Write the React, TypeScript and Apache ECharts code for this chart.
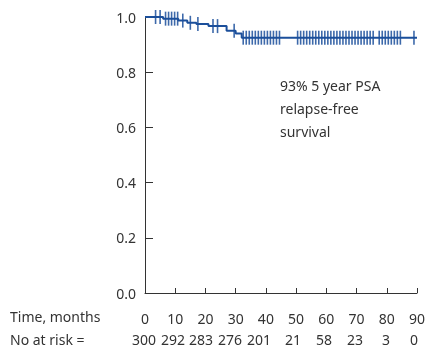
import React, { useEffect, useRef } from "react";
import * as echarts from "echarts";

// Kaplan–Meier step points: time (months) and survival
const stepTimes = [0, 6, 11, 14, 17, 21, 27, 30, 32, 90];
const stepSurv = [1.0, 0.994, 0.987, 0.979, 0.975, 0.967, 0.95, 0.94, 0.925, 0.925];

// Censored observation times (months)
const censorTimes = [
  3.5, 5, 6.8, 7.8, 8.8, 9.8, 10.8, 12.5, 15, 17.5, 22.5, 24, 29.5,
  32.5, 33.5, 34.5, 35.5, 36.5, 37.5, 38.5, 39.5, 40.5, 41.5, 42.5, 43.5, 44.5,
  50.5, 51.5, 52.5, 53.5, 54.5, 55.5, 56.5, 57.5, 58.5, 59.5, 60.5, 61.5, 62.5,
  63.5, 64.5, 65.5, 66.5, 67.5, 68.5, 69.5, 70.5, 71.5, 72.5, 73.5, 74.5, 75.5,
  77.5, 78.5, 79.5, 80.5, 81.5, 82.5, 83.5, 84.5, 89,
];

const timeTicks = [0, 10, 20, 30, 40, 50, 60, 70, 80, 90];
const atRisk = ["300", "292", "283", "276", "201", "21", "58", "23", "3", "0"];
const atRiskX = [144, 173, 201, 230, 259, 293, 324, 355, 386, 414];
const annotation = ["93% 5 year PSA", "relapse-free", "survival"];

const survAt = (t: number) => {
  let s = stepSurv[0];
  for (let i = 0; i < stepTimes.length; i++) if (stepTimes[i] <= t) s = stepSurv[i];
  return s;
};

const FONT = "Noto Sans";
const TXT = "#333333";
const BLUE = "#1b4f9b";

export default function App() {
  const ref = useRef<HTMLDivElement>(null);
  useEffect(() => {
    const chart = echarts.init(ref.current!, undefined, { renderer: "svg" });
    chart.setOption({
      animation: false,
      grid: { left: 145, right: 10, top: 17, bottom: 57 },
      textStyle: { fontFamily: FONT },
      xAxis: {
        type: "value",
        min: 0,
        max: 90,
        interval: 10,
        axisLine: { lineStyle: { color: TXT, width: 1 } },
        axisTick: { inside: true, length: 5, lineStyle: { color: TXT } },
        axisLabel: {
          margin: 18,
          color: TXT,
          fontSize: 14,
          fontFamily: FONT,
          formatter: (v: number) => (timeTicks.includes(v) ? String(v) : ""),
        },
        splitLine: { show: false },
      },
      yAxis: {
        type: "value",
        min: 0,
        max: 1,
        interval: 0.2,
        axisLine: { show: true, lineStyle: { color: TXT, width: 1 } },
        axisTick: { show: true, inside: true, length: 8, lineStyle: { color: TXT } },
        axisLabel: {
          margin: 9,
          color: TXT,
          fontSize: 14,
          fontFamily: FONT,
          formatter: (v: number) => v.toFixed(1),
        },
        splitLine: { show: false },
      },
      series: [
        {
          type: "line",
          step: "end",
          symbol: "none",
          data: stepTimes.map((t, i) => [t, stepSurv[i]]),
          lineStyle: { color: BLUE, width: 2 },
          z: 3,
        },
        {
          type: "scatter",
          symbol: "rect",
          symbolSize: [1.6, 14],
          data: censorTimes.map((t) => [t, survAt(t)]),
          itemStyle: { color: BLUE, opacity: 0.85 },
          z: 4,
        },
      ],
      graphic: [
        {
          type: "text",
          left: 10,
          top: 309,
          style: { text: "Time, months", fill: TXT, font: `14px "${FONT}"` },
        },
        {
          type: "text",
          left: 10,
          top: 332,
          style: { text: "No at risk =", fill: TXT, font: `14px "${FONT}"` },
        },
        ...atRisk.map((v, i) => ({
          type: "text",
          x: atRiskX[i],
          y: 332,
          style: { text: v, fill: TXT, font: `14px "${FONT}"`, align: "center" },
        })),
        ...annotation.map((line, i) => ({
          type: "text",
          x: 280,
          y: 78 + i * 23,
          style: { text: line, fill: TXT, font: `14px "${FONT}"` },
        })),
      ],
    });
    return () => chart.dispose();
  }, []);
  return (
    <div
      ref={ref}
      style={{ position: "fixed", left: 0, top: 0, width: 428, height: 350 }}
    />
  );
}
